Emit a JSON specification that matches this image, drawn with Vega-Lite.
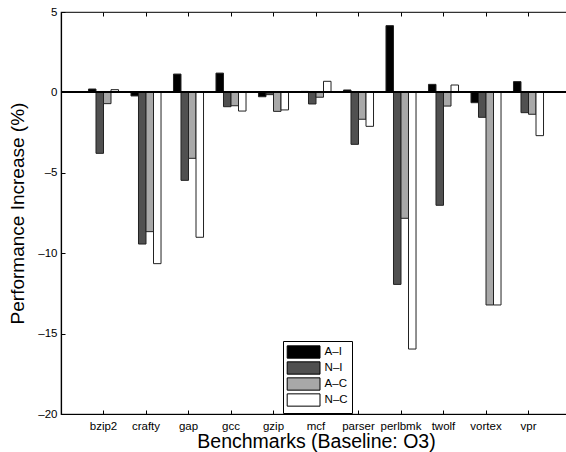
{
  "$schema": "https://vega.github.io/schema/vega-lite/v6.json",
  "width": 510,
  "height": 402,
  "autosize": {"type": "none"},
  "padding": {"left": 61, "top": 12, "right": 0, "bottom": 38},
  "background": "white",
  "config": {
    "font": "Liberation Sans",
    "view": {"stroke": "#333", "strokeWidth": 1.2},
    "axis": {"grid": false, "domainColor": "black", "tickColor": "black", "labelColor": "black", "titleColor": "black", "labelFont": "Liberation Sans", "titleFont": "Liberation Sans", "titleFontWeight": "normal"}
  },
  "data": {"values": [
    {"bench": "bzip2", "series": "A–I", "value": 0.21},
    {"bench": "bzip2", "series": "N–I", "value": -3.79},
    {"bench": "bzip2", "series": "A–C", "value": -0.70},
    {"bench": "bzip2", "series": "N–C", "value": 0.17},
    {"bench": "crafty", "series": "A–I", "value": -0.22},
    {"bench": "crafty", "series": "N–I", "value": -9.43},
    {"bench": "crafty", "series": "A–C", "value": -8.66},
    {"bench": "crafty", "series": "N–C", "value": -10.65},
    {"bench": "gap", "series": "A–I", "value": 1.14},
    {"bench": "gap", "series": "N–I", "value": -5.47},
    {"bench": "gap", "series": "A–C", "value": -4.10},
    {"bench": "gap", "series": "N–C", "value": -9.01},
    {"bench": "gcc", "series": "A–I", "value": 1.20},
    {"bench": "gcc", "series": "N–I", "value": -0.89},
    {"bench": "gcc", "series": "A–C", "value": -0.83},
    {"bench": "gcc", "series": "N–C", "value": -1.16},
    {"bench": "gzip", "series": "A–I", "value": -0.27},
    {"bench": "gzip", "series": "N–I", "value": -0.14},
    {"bench": "gzip", "series": "A–C", "value": -1.18},
    {"bench": "gzip", "series": "N–C", "value": -1.09},
    {"bench": "mcf", "series": "A–I", "value": 0.06},
    {"bench": "mcf", "series": "N–I", "value": -0.72},
    {"bench": "mcf", "series": "A–C", "value": -0.30},
    {"bench": "mcf", "series": "N–C", "value": 0.69},
    {"bench": "parser", "series": "A–I", "value": 0.15},
    {"bench": "parser", "series": "N–I", "value": -3.23},
    {"bench": "parser", "series": "A–C", "value": -1.67},
    {"bench": "parser", "series": "N–C", "value": -2.11},
    {"bench": "perlbmk", "series": "A–I", "value": 4.15},
    {"bench": "perlbmk", "series": "N–I", "value": -11.94},
    {"bench": "perlbmk", "series": "A–C", "value": -7.83},
    {"bench": "perlbmk", "series": "N–C", "value": -15.96},
    {"bench": "twolf", "series": "A–I", "value": 0.50},
    {"bench": "twolf", "series": "N–I", "value": -7.02},
    {"bench": "twolf", "series": "A–C", "value": -0.85},
    {"bench": "twolf", "series": "N–C", "value": 0.46},
    {"bench": "vortex", "series": "A–I", "value": -0.64},
    {"bench": "vortex", "series": "N–I", "value": -1.55},
    {"bench": "vortex", "series": "A–C", "value": -13.22},
    {"bench": "vortex", "series": "N–C", "value": -13.22},
    {"bench": "vpr", "series": "A–I", "value": 0.67},
    {"bench": "vpr", "series": "N–I", "value": -1.26},
    {"bench": "vpr", "series": "A–C", "value": -1.36},
    {"bench": "vpr", "series": "N–C", "value": -2.69}
  ]},
  "resolve": {"axis": {"x": "independent"}},
  "layer": [
    {
      "mark": {"type": "bar", "stroke": "#222", "strokeWidth": 1},
      "encoding": {
        "x": {"field": "bench", "type": "nominal", "sort": null,
              "scale": {"paddingInner": 0, "paddingOuter": 0.5},
              "axis": {"orient": "bottom", "title": "Benchmarks (Baseline: O3)", "titleFontSize": 19.5, "titlePadding": 1, "labelAngle": 0, "labelFontSize": 11.5, "tickSize": -4, "labelPadding": 10, "domain": true, "domainWidth": 1.2}},
        "xOffset": {"field": "series", "type": "nominal", "sort": ["A–I", "N–I", "A–C", "N–C"],
              "scale": {"paddingInner": 0, "paddingOuter": 0.83}},
        "y": {"field": "value", "type": "quantitative",
              "scale": {"domain": [-20, 5], "nice": false, "zero": false},
              "axis": {"values": [-20, -15, -10, -5, 0, 5], "labelExpr": "datum.value < 0 ? '–' + abs(datum.value) : '' + datum.value", "title": "Performance Increase (%)", "titleFontSize": 19, "titlePadding": 10, "labelFontSize": 11.5, "tickSize": -4, "labelPadding": 8, "domainWidth": 1.2}},
        "color": {"field": "series", "type": "nominal", "sort": ["A–I", "N–I", "A–C", "N–C"],
              "scale": {"domain": ["A–I", "N–I", "A–C", "N–C"], "range": ["#000000", "#505050", "#a8a8a8", "#ffffff"]},
              "legend": {"orient": "none", "legendX": 222, "legendY": 329, "title": null,
                         "symbolType": "M-2.67,-1L2.67,-1L2.67,1L-2.67,1Z", "symbolSize": 151,
                         "symbolStrokeColor": "black", "symbolStrokeWidth": 1, "symbolOpacity": 1,
                         "symbolOffset": 9.6,
                         "labelFontSize": 11.5, "labelColor": "black", "labelOffset": 14,
                         "rowPadding": -3.6, "padding": 4, "strokeColor": "black", "fillColor": "white"}},
        "opacity": {"value": 1}
      }
    },
    {
      "mark": {"type": "rule", "color": "black", "strokeWidth": 1.2},
      "encoding": {"y": {"datum": 0}}
    },
    {
      "mark": {"type": "point", "opacity": 0},
      "encoding": {
        "x": {"field": "bench", "type": "nominal", "sort": null,
              "axis": {"orient": "top", "title": null, "labels": false, "domain": false, "tickSize": -4}},
        "y": {"field": "value", "type": "quantitative"}
      }
    }
  ]
}
